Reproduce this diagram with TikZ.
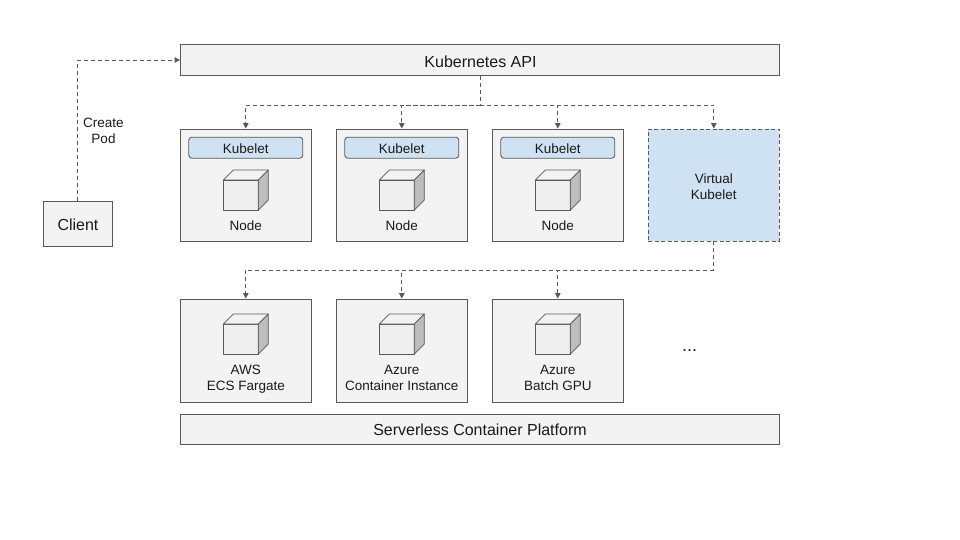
\documentclass[tikz,border=0pt]{standalone}
\usepackage{fontspec}
\setmainfont{Liberation Sans}
\usetikzlibrary{arrows.meta,positioning,calc}
\definecolor{figLine}{HTML}{595959}
\definecolor{figBox}{HTML}{F3F3F3}
\definecolor{figBlue}{HTML}{CFE2F3}
\definecolor{figFront}{HTML}{EFEFEF}
\definecolor{figSide}{HTML}{BDBDBD}
\definecolor{figText}{HTML}{1A1A1A}
\tikzset{
  cubepic/.pic={
    \draw[figLine,line width=0.75pt,fill=figFront,line join=round] (-17.5,-15) rectangle (17.5,15);
    \draw[figLine,line width=0.75pt,fill=figBox,line join=round] (-17.5,-15) -- (-7.5,-25) -- (27.5,-25) -- (17.5,-15) -- cycle;
    \draw[figLine,line width=0.75pt,fill=figSide,line join=round] (17.5,-15) -- (27.5,-25) -- (27.5,5) -- (17.5,15) -- cycle;
  }
}
\begin{document}
\begin{tikzpicture}[
  x=1pt,y=-1pt,
  font=\fontsize{13.5}{16}\selectfont,
  text=figText,
  box/.style={draw=figLine,line width=0.85pt,fill=figBox,minimum width=131pt,inner sep=0pt,align=center},
  wide/.style={box,minimum width=599pt,minimum height=31pt,font=\fontsize{16}{18}\selectfont},
  kubelet/.style={box,fill=figBlue,rounded corners=3pt,minimum width=114pt,minimum height=21pt,text height=12pt,text depth=0pt},
  virt/.style={box,fill=figBlue,dash pattern=on 4pt off 2.5pt,minimum height=112pt},
  lbl/.style={inner sep=0pt,align=center},
  arr/.style={-{Triangle[length=5.5pt,width=5.5pt]},figLine,line width=0.85pt,dash pattern=on 4pt off 3pt}
]
\useasboundingbox (0,0) rectangle (960,540);
% ---- Top and bottom bands ----
\node[wide] (api) at (480,60) {};
\node[wide,minimum height=30pt] (platform) at (480,429) {};
\node[lbl,font=\fontsize{16}{18}\selectfont] (apilabel) at (480.5,61.5) {Kubernetes API};
\node[lbl,font=\fontsize{16}{18}\selectfont] (platlabel) at (480,429.5) {Serverless Container Platform};

% ---- Client ----
\node[box,minimum width=69pt,minimum height=45pt] (client) at (77.8,223.5) {};
\node[lbl,font=\fontsize{16}{18}\selectfont] (clientlabel) at (78,224.5) {Client};
\node[lbl] (create) at (103.5,131) {Create\\Pod};

% ---- Node row ----
\node[box,minimum height=112pt] (node1) at (245.8,185) {};
\node[box,minimum height=112pt] (node2) at (401.8,185) {};
\node[box,minimum height=112pt] (node3) at (557.8,185) {};
\node[virt] (virtual) at (713.8,185) {};
\node[lbl] (virtlabel) at (713.8,187) {Virtual\\Kubelet};

\node[kubelet] (kubelet1) at (245.8,147.7) {Kubelet};
\node[kubelet] (kubelet2) at (401.8,147.7) {Kubelet};
\node[kubelet] (kubelet3) at (557.8,147.7) {Kubelet};

\pic at (240.8,195) {cubepic};
\pic at (396.8,195) {cubepic};
\pic at (552.8,195) {cubepic};

\node[lbl] (label1) at (245.8,225.7) {Node};
\node[lbl] (label2) at (401.8,225.7) {Node};
\node[lbl] (label3) at (557.8,225.7) {Node};

% ---- Platform row ----
\node[box,minimum height=103pt] (plat1) at (245.8,350.5) {};
\node[box,minimum height=103pt] (plat2) at (401.8,350.5) {};
\node[box,minimum height=103pt] (plat3) at (557.8,350.5) {};

\pic at (240.8,339) {cubepic};
\pic at (396.8,339) {cubepic};
\pic at (552.8,339) {cubepic};

\node[lbl] (fargate) at (245.8,379) {AWS\\ECS Fargate};
\node[lbl] (aci) at (401.8,377.5) {Azure\\Container Instance};
\node[lbl] (batch) at (557.8,377.5) {Azure\\Batch GPU};
\node[lbl,font=\fontsize{18}{18}\selectfont] (more) at (689.5,351) {...};

% ---- Flow arrows ----
\coordinate (busTop) at (api.south |- 0,105);
\coordinate (busLow) at (virtual.south |- 0,270);
\draw[arr] (client.north) |- (api.west);
\draw[arr] (api.south) -- (busTop) -| (node1.north);
\draw[arr] (busTop) -| (node2.north);
\draw[arr] (busTop) -| (node3.north);
\draw[arr] (busTop) -| (virtual.north);
\draw[arr] (virtual.south) -- (busLow) -| (plat1.north);
\draw[arr] (busLow) -| (plat2.north);
\draw[arr] (busLow) -| (plat3.north);
\end{tikzpicture}
\end{document}
